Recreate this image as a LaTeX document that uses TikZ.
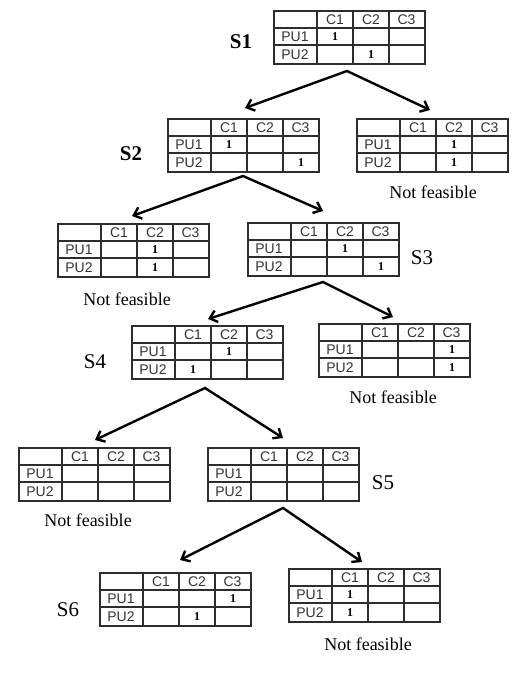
\documentclass[tikz,border=0pt]{standalone}
\usepackage{fontspec}
\setmainfont{Liberation Serif}
\newfontfamily\tabfont{Liberation Sans}
\usetikzlibrary{arrows.meta}
\definecolor{tabtext}{RGB}{50,50,62}
\definecolor{tabline}{RGB}{45,45,45}
\tikzset{
 tblbox/.style={draw=tabline, line width=1.6pt, minimum width=151pt, minimum height=53pt, inner sep=0pt, anchor=north west},
 tblline/.style={draw=tabline, line width=1.3pt},
 celltxt/.style={font=\tabfont\fontsize{14}{16}\selectfont, text=tabtext, inner sep=0pt},
 val/.style={font=\fontsize{12}{13}\selectfont\bfseries, inner sep=0pt},
 slabel/.style={font=\fontsize{21}{24}\selectfont, inner sep=0pt},
 nf/.style={font=\fontsize{18}{20}\selectfont, inner sep=0pt},
 arr/.style={line width=2.4pt, {Straight Barb[length=7pt,width=12pt]}-{Straight Barb[length=7pt,width=12pt]}, line join=miter},
}
\newcommand{\stab}[5]{%
 \begin{scope}[shift={(#2,#3)}]
 \node[tblbox] (#1) at (0,0) {};
 \draw[tblline] (0,18) -- (151,18) (0,35) -- (151,35) (44,0) -- (44,53) (80,0) -- (80,53) (116,0) -- (116,53);
 \node[celltxt] (#1-c1) at (62,9.5) {C1};
 \node[celltxt] (#1-c2) at (98,9.5) {C2};
 \node[celltxt] (#1-c3) at (133.5,9.5) {C3};
 \node[celltxt] (#1-p1) at (22,27) {PU1};
 \node[celltxt] (#1-p2) at (22,44.5) {PU2};
 \ifnum#4>0 \node[val] (#1-v1) at ({26+36*#4},27) {1};\fi
 \ifnum#5>0 \node[val] (#1-v2) at ({26+36*#5},44.5) {1};\fi
 \end{scope}}
\begin{document}
\begin{tikzpicture}[x=1pt,y=-1pt]
\useasboundingbox[fill=white] (0,0) rectangle (530,689);
% tables
\stab{s1}{273}{10}{1}{2}
\stab{s2}{167}{118}{1}{3}
\stab{t2}{356}{118}{2}{2}
\stab{t3}{57}{223}{2}{2}
\stab{s3}{247}{222}{2}{3}
\stab{s4}{131}{325}{2}{1}
\stab{t4}{318}{323}{3}{3}
\stab{t5}{18}{447}{0}{0}
\stab{s5}{207}{447}{0}{0}
\stab{s6}{99}{572}{3}{2}
\stab{t6}{288}{568}{1}{1}
% state labels
\node[slabel, font=\fontsize{21}{24}\selectfont\bfseries] (l1) at (241,42) {S1};
\node[slabel, font=\fontsize{21}{24}\selectfont\bfseries] (l2) at (131,154) {S2};
\node[slabel] (l3) at (422,258) {S3};
\node[slabel] (l4) at (95,362) {S4};
\node[slabel] (l5) at (383,483) {S5};
\node[slabel] (l6) at (68,610) {S6};
% not feasible
\node[nf] (n2) at (433,192) {Not feasible};
\node[nf] (n3) at (127,299) {Not feasible};
\node[nf] (n4) at (393,397) {Not feasible};
\node[nf] (n5) at (88,520) {Not feasible};
\node[nf] (n6) at (368,644) {Not feasible};
% arrows
\coordinate (a1) at (347,71); \coordinate (a1l) at (245,108); \coordinate (a1r) at (430,110);
\coordinate (a2) at (243,176); \coordinate (a2l) at (132,216); \coordinate (a2r) at (323,211);
\coordinate (a3) at (323,282); \coordinate (a3l) at (208,319); \coordinate (a3r) at (393,317);
\coordinate (a4) at (205,388); \coordinate (a4l) at (95,440); \coordinate (a4r) at (283,438);
\coordinate (a5) at (283,508); \coordinate (a5l) at (180,560); \coordinate (a5r) at (362,562);
\draw[arr] (a1l) -- (a1) -- (a1r);
\draw[arr] (a2l) -- (a2) -- (a2r);
\draw[arr] (a3l) -- (a3) -- (a3r);
\draw[arr] (a4l) -- (a4) -- (a4r);
\draw[arr] (a5l) -- (a5) -- (a5r);
\end{tikzpicture}
\end{document}
